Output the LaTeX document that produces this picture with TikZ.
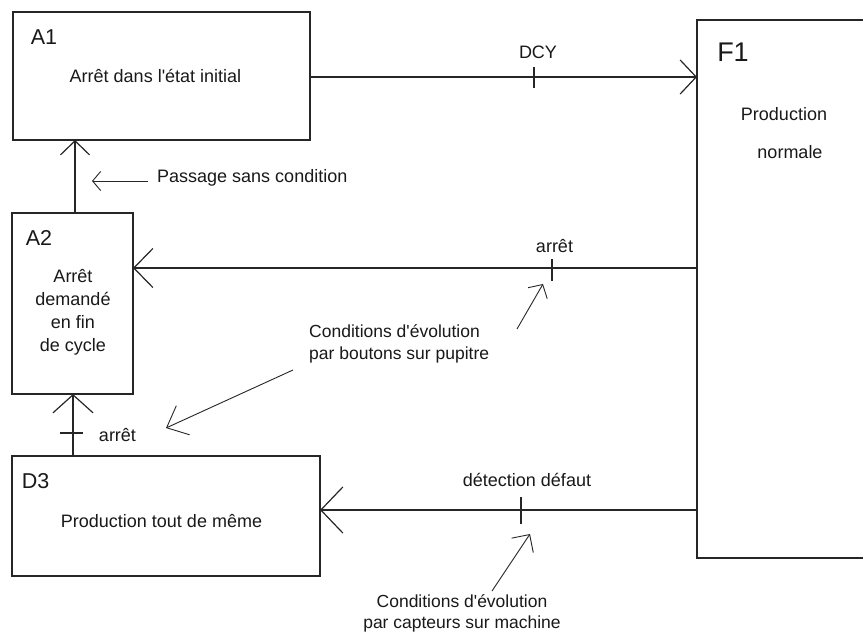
\documentclass[tikz,border=0pt]{standalone}
\usepackage{fontspec}
\setmainfont{Liberation Sans}
\usetikzlibrary{arrows.meta}
\begin{document}
\begin{tikzpicture}[x=1pt,y=-1pt,
  box/.style={draw=black!85, line width=1.2pt, inner sep=0pt, outer sep=0pt},
  conn/.style={draw=black!85, line width=1.2pt},
  notearrow/.style={draw=black!85, line width=0.9pt},
  txt/.style={inner sep=0pt, text=black!90, font=\fontsize{18}{23}\selectfont},
  ctxt/.style={inner sep=0pt, text=black!90, font=\fontsize{17.5}{21.5}\selectfont},
  lbl/.style={inner sep=0pt, text=black!90, font=\fontsize{21.5}{24}\selectfont},
]
\clip (0,0) rectangle (863,632);
\fill[white] (0,0) rectangle (863,632);

% boxes
\node[box, minimum width=297pt, minimum height=128pt] (A1) at (161.5,76) {};
\node[box, minimum width=121pt, minimum height=181pt] (A2) at (72.5,303.5) {};
\node[box, minimum width=308pt, minimum height=120pt] (D3) at (166,516) {};
\node[box, minimum width=203pt, minimum height=538pt] (F1) at (798.5,289) {};

% box labels and texts
\node[lbl] (lA1) at (44,37.5) {A1};
\node[txt] (tA1) at (155.5,76) {Arrêt dans l\textquotesingle état initial};
\node[lbl] (lA2) at (39,238) {A2};
\node[txt, align=center] (tA2) at (73,312) {Arrêt\\demandé\\en fin\\de cycle};
\node[lbl] (lD3) at (35.5,481) {D3};
\node[txt] (tD3) at (161.5,521) {Production tout de même};
\node[inner sep=0pt, text=black!90, font=\fontsize{27}{30}\selectfont] (lF1) at (733,52) {F1};
\node[txt] (tF1a) at (784,114) {Production};
\node[txt] (tF1b) at (790,152) {normale};

% rows / columns
\coordinate (yDCY) at (0,77);
\coordinate (yArr) at (0,268);
\coordinate (yDef) at (0,510);
\coordinate (xUp) at (75,0);
\coordinate (xLow) at (73,0);

% A1 -> F1 (DCY)
\draw[conn, -{Straight Barb[length=16pt,width=34pt]}] (A1.east |- yDCY) -- (F1.west |- yDCY);
\coordinate (tDCY) at (534,77);
\draw[conn] ([yshift=10pt]tDCY) -- ([yshift=-11pt]tDCY);
\node[txt] (lDCY) at (538,52) {DCY};

% F1 -> A2 (arrêt)
\draw[conn, -{Straight Barb[length=19pt,width=39pt]}] (F1.west |- yArr) -- (A2.east |- yArr);
\coordinate (tArr) at (552,268);
\draw[conn] ([yshift=9pt]tArr) -- ([yshift=-13pt]tArr);
\node[txt] (lArr) at (554.5,246) {arrêt};

% A2 -> A1 (passage sans condition)
\draw[conn, -{Straight Barb[length=14pt,width=29pt]}] (A2.north -| xUp) -- (A1.south -| xUp);

% D3 -> A2 (arrêt)
\draw[conn, -{Straight Barb[length=18pt,width=40pt]}] (D3.north -| xLow) -- (A2.south -| xLow);
\coordinate (tLow) at (72,433);
\draw[conn] ([xshift=-12pt]tLow) -- ([xshift=11pt]tLow);
\node[txt] (lLow) at (117.5,435) {arrêt};

% F1 -> D3 (détection défaut)
\draw[conn, -{Straight Barb[length=22pt,width=46pt]}] (F1.west |- yDef) -- (D3.east |- yDef);
\coordinate (tDef) at (521,510);
\draw[conn] ([yshift=13pt]tDef) -- ([yshift=-14pt]tDef);
\node[txt] (lDef) at (527,480) {détection défaut};

% annotation: passage sans condition
\node[txt, anchor=west] (pass) at (157,177.5) {Passage sans condition};
\coordinate (passTip) at (92,181);
\draw[notearrow, -{Straight Barb[length=8pt,width=19pt]}] (pass.west |- passTip) ++(-9,0) -- (passTip);

% annotation: boutons sur pupitre
\node[ctxt, align=left, anchor=west] (bout) at (309,344) {Conditions d\textquotesingle évolution\\par boutons sur pupitre};
\coordinate (bTailA) at (517,329);
\coordinate (bTipA) at (543,284);
\coordinate (bTailB) at (293,370);
\coordinate (bTipB) at (166,428);
\draw[notearrow, -{Straight Barb[length=10pt,width=22pt]}] (bTailA) -- (bTipA);
\draw[notearrow, -{Straight Barb[length=18pt,width=32pt]}] (bTailB) -- (bTipB);

% annotation: capteurs sur machine
\node[ctxt, align=center] (capt) at (462,613.5) {Conditions d\textquotesingle évolution\\par capteurs sur machine};
\coordinate (cTail) at (492,591);
\coordinate (cTip) at (530,534);
\draw[notearrow, -{Straight Barb[length=13pt,width=26pt]}] (cTail) -- (cTip);
\end{tikzpicture}
\end{document}
